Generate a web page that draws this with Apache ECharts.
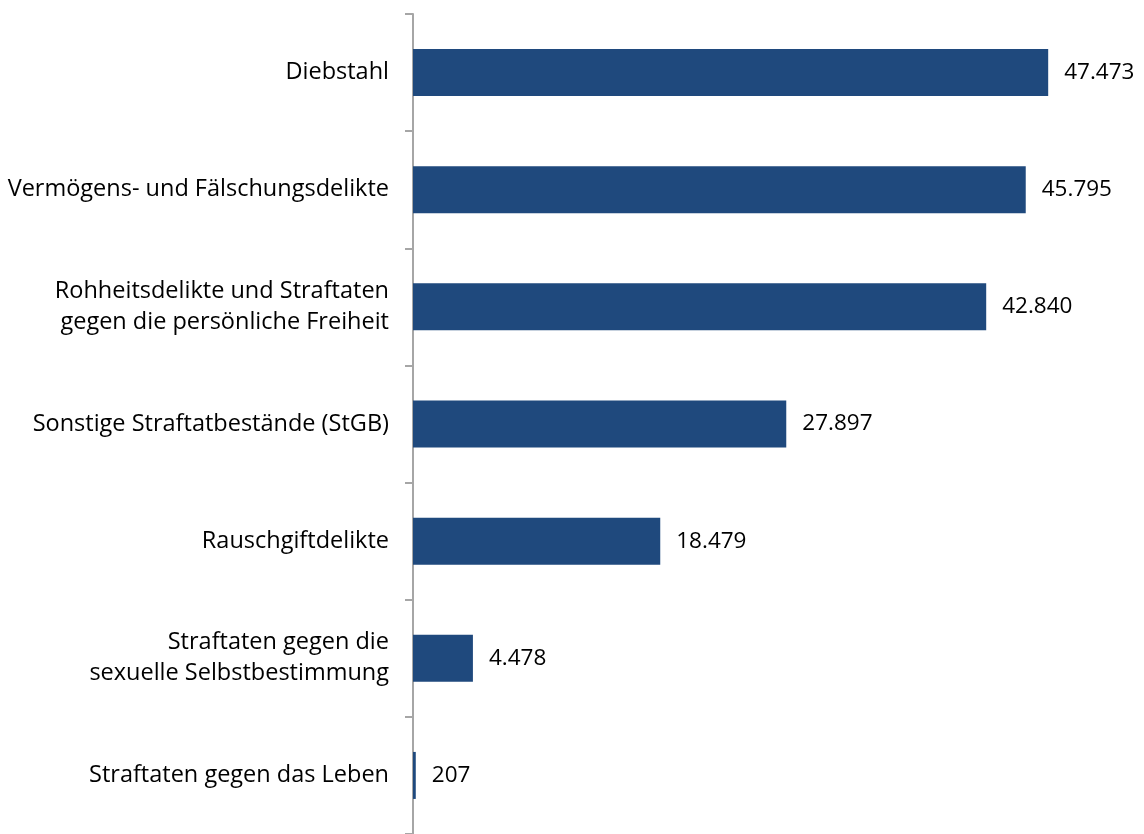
<!DOCTYPE html>
<html>
<head>
<meta charset="utf-8">
<script src="https://cdn.jsdelivr.net/npm/echarts@6/dist/echarts.min.js"></script>
<style>
  html, body { margin: 0; padding: 0; background: #fff; }
  #main { width: 1144px; height: 834px; }
</style>
</head>
<body>
<div id="main"></div>
<script>
// categories top to bottom
const categories = [
  'Diebstahl',
  'Vermögens- und Fälschungsdelikte',
  'Rohheitsdelikte und Straftaten\ngegen die persönliche Freiheit',
  'Sonstige Straftatbestände (StGB)',
  'Rauschgiftdelikte',
  'Straftaten gegen die\nsexuelle Selbstbestimmung',
  'Straftaten gegen das Leben'
];
const values = [47473, 45795, 42840, 27897, 18479, 4478, 207];

const fontFam = '"Open Sans", sans-serif';

function fmt(v) {
  return String(v).replace(/\B(?=(\d{3})+(?!\d))/g, '.');
}

const chart = echarts.init(document.getElementById('main'));
chart.setOption({
  animation: false,
  grid: { left: 413, top: 14, width: 669, height: 827 },
  xAxis: {
    type: 'value',
    min: 0,
    max: 50000,
    show: false
  },
  yAxis: {
    type: 'category',
    data: categories,
    inverse: true,
    axisLine: { show: true, lineStyle: { color: '#a6a6a6', width: 2 } },
    axisTick: { show: true, length: 8, lineStyle: { color: '#a6a6a6', width: 2 } },
    axisLabel: {
      margin: 24,
      color: '#000',
      fontSize: 23.5,
      fontFamily: fontFam,
      lineHeight: 31,
      align: 'right'
    },
    splitLine: { show: false }
  },
  series: [{
    type: 'bar',
    data: values,
    barWidth: 47,
    itemStyle: { color: '#1F497D' },
    label: {
      show: true,
      position: 'right',
      distance: 16,
      color: '#000',
      fontSize: 22.5,
      fontFamily: fontFam,
      formatter: p => fmt(p.value)
    }
  }]
});
</script>
</body>
</html>
